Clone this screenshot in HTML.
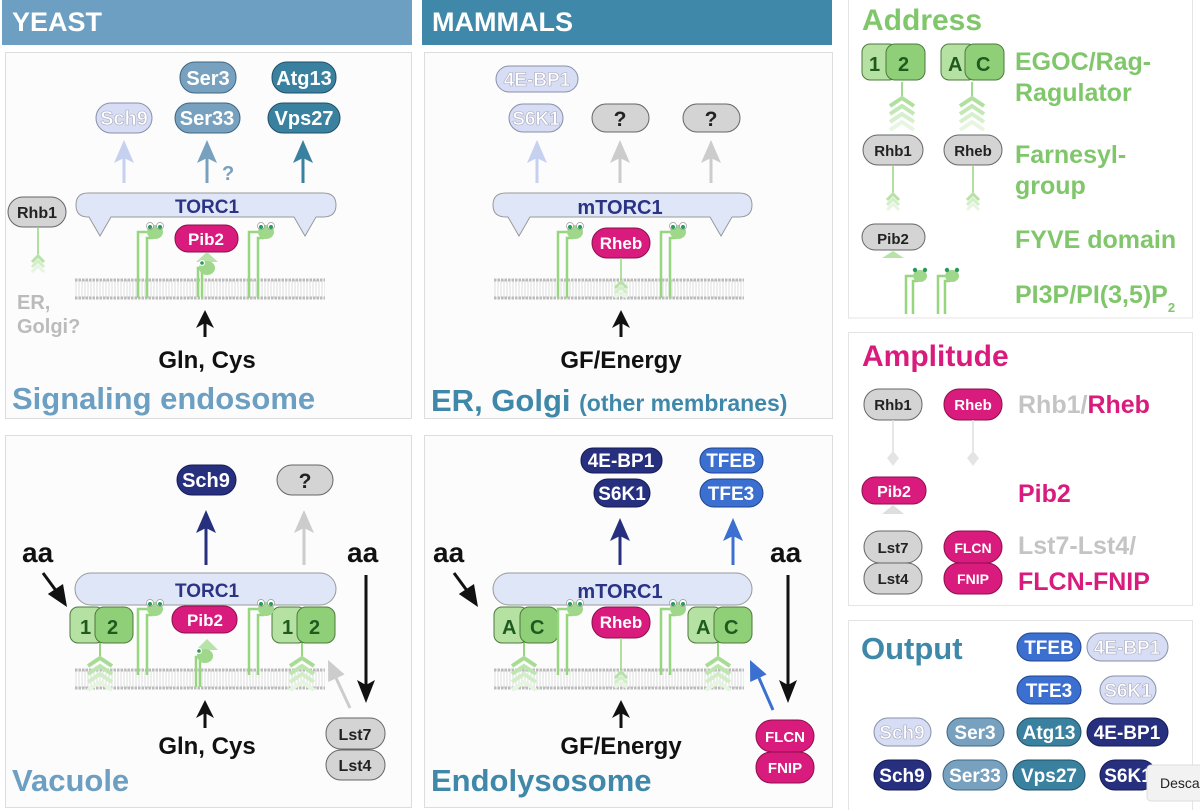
<!DOCTYPE html>
<html><head><meta charset="utf-8"><style>
html,body{margin:0;padding:0;background:#fff;}
svg{display:block;}
text{font-family:"Liberation Sans",Arial,sans-serif;font-weight:bold;}
</style></head><body>
<svg width="1200" height="810" viewBox="0 0 1200 810" xmlns="http://www.w3.org/2000/svg">
<defs>
 <pattern id="hatch" width="3" height="10" patternUnits="userSpaceOnUse"><rect width="3" height="10" fill="#fff"/><line x1="1" y1="0" x2="1" y2="10" stroke="#ddd" stroke-width="1"/></pattern>
 <g id="lip">
  <path d="M-15,70 V4 H-6 M-6,70 V10 H0" fill="none" stroke="#96d67f" stroke-width="2.5"/>
  <ellipse cx="2" cy="4" rx="8" ry="7" fill="#9fd88a"/>
  <circle cx="-3" cy="-2" r="3.5" fill="#fff" stroke="#999" stroke-width="0.7"/>
  <circle cx="7" cy="-2" r="3.5" fill="#fff" stroke="#999" stroke-width="0.7"/>
  <circle cx="-3" cy="-1" r="2" fill="#2a9a5a"/>
  <circle cx="7" cy="-1" r="2" fill="#2a9a5a"/>
 </g>
 <g id="lips">
  <path d="M-12,42 V4 H-5 M-5,42 V9 H0" fill="none" stroke="#96d67f" stroke-width="2.5"/>
  <ellipse cx="2" cy="4" rx="7" ry="6" fill="#9fd88a"/>
  <circle cx="-3" cy="-2" r="2.2" fill="#2a9a5a"/>
  <circle cx="7" cy="-2" r="2.2" fill="#2a9a5a"/>
 </g>
 <g id="chev">
  <line x1="0" y1="-14" x2="0" y2="0" stroke="#96d67f" stroke-width="2"/>
  <polyline points="-12,10 0,2 12,10" fill="none" stroke="#a8dc95" stroke-width="4"/>
  <polyline points="-12,18 0,10 12,18" fill="none" stroke="#bde6ae" stroke-width="4"/>
  <polyline points="-12,26 0,18 12,26" fill="none" stroke="#d2eec8" stroke-width="4"/>
  <polyline points="-12,34 0,26 12,34" fill="none" stroke="#e6f5e0" stroke-width="4"/>
 </g>
 <g id="chevs">
  <polyline points="-6,6 0,0 6,6" fill="none" stroke="#b7e2a7" stroke-width="3"/>
  <polyline points="-6,11 0,5 6,11" fill="none" stroke="#d2eec8" stroke-width="3"/>
  <polyline points="-6,16 0,10 6,16" fill="none" stroke="#e6f5e0" stroke-width="3"/>
 </g>
 <g id="mem">
  <rect x="0" y="0" width="250" height="18" fill="url(#hatch)"/>
  <line x1="0" y1="0" x2="250" y2="0" stroke="#bbb" stroke-width="3" stroke-dasharray="2.5,1"/>
  <line x1="0" y1="18" x2="250" y2="18" stroke="#bbb" stroke-width="3" stroke-dasharray="2.5,1"/>
 </g>
</defs>

<!-- headers -->
<rect x="2" y="0" width="410" height="45" fill="#6c9fc1"/>
<text x="12" y="31" font-size="27" fill="#fff">YEAST</text>
<rect x="422" y="0" width="410" height="45" fill="#3f88aa"/>
<text x="432" y="31" font-size="27" fill="#fff">MAMMALS</text>

<!-- panels -->
<rect x="5.5" y="52.5" width="406" height="366" fill="#fcfcfc" stroke="#ddd"/>
<rect x="5.5" y="435.5" width="406" height="372" fill="#fcfcfc" stroke="#ddd"/>
<rect x="424.5" y="52.5" width="408" height="366" fill="#fcfcfc" stroke="#ddd"/>
<rect x="424.5" y="435.5" width="408" height="372" fill="#fcfcfc" stroke="#ddd"/>
<rect x="848.5" y="-2" width="344" height="320" fill="#fff" stroke="#e4e4e4"/>
<rect x="848.5" y="332.5" width="344" height="273" fill="#fff" stroke="#e4e4e4"/>
<rect x="848.5" y="620.5" width="344" height="195" fill="#fff" stroke="#e4e4e4"/>

<!-- ===== TOP LEFT: Signaling endosome ===== -->
<rect x="180" y="62" width="56" height="31" rx="15" fill="#77a1bf" stroke="#3e6680"/>
<text x="208" y="85" font-size="20" fill="#fff" text-anchor="middle">Ser3</text>
<rect x="272" y="62" width="64" height="31" rx="15" fill="#3a81a0" stroke="#1f5069"/>
<text x="304" y="85" font-size="20" fill="#fff" text-anchor="middle">Atg13</text>
<rect x="96" y="103" width="56" height="30" rx="15" fill="#d7ddf5" stroke="#8a90a8"/>
<text x="124" y="125" font-size="20" fill="#fff" stroke="#aab" stroke-width="0.6" text-anchor="middle">Sch9</text>
<rect x="175" y="103" width="65" height="30" rx="15" fill="#77a1bf" stroke="#3e6680"/>
<text x="207" y="125" font-size="20" fill="#fff" text-anchor="middle">Ser33</text>
<rect x="268" y="103" width="72" height="30" rx="15" fill="#3a81a0" stroke="#1f5069"/>
<text x="304" y="125" font-size="20" fill="#fff" text-anchor="middle">Vps27</text>
<line x1="124" y1="183" x2="124" y2="150" stroke="#c6d1f0" stroke-width="3"/><polygon points="114,163 124,140 134,163 124,158" fill="#c6d1f0"/>
<line x1="207" y1="183" x2="207" y2="150" stroke="#77a1bf" stroke-width="3"/><polygon points="197,163 207,140 217,163 207,158" fill="#77a1bf"/>
<text x="222" y="180" font-size="20" fill="#77a1bf">?</text>
<line x1="303" y1="183" x2="303" y2="150" stroke="#3a81a0" stroke-width="3"/><polygon points="293,163 303,140 313,163 303,158" fill="#3a81a0"/>
<path d="M88,193 H323 Q336,193 336,205 Q336,217 323,217 H316 L305,236 L294,217 H111 L100,236 L89,217 H88 Q76,217 76,205 Q76,193 88,193 Z" fill="#dfe6f8" stroke="#999"/>
<text x="207" y="213" font-size="19" fill="#2b3384" text-anchor="middle">TORC1</text>
<rect x="8" y="197" width="58" height="30" rx="15" fill="#d4d4d4" stroke="#666"/>
<text x="37" y="218" font-size="16" fill="#222" text-anchor="middle">Rhb1</text>
<line x1="38" y1="227" x2="38" y2="256" stroke="#96d67f" stroke-width="1.5"/>
<use href="#chevs" x="38" y="256"/>
<use href="#mem" x="75" y="280"/>
<use href="#lip" x="153" y="228"/>
<use href="#lip" x="264" y="228"/>
<rect x="175" y="225" width="63" height="27" rx="13" fill="#d81b7c" stroke="#8a0f4c"/>
<text x="206" y="245" font-size="17" fill="#fff" text-anchor="middle">Pib2</text>
<polygon points="196,262 207,252 218,262" fill="#b8e3a8"/>
<path d="M198,297 V268 H205 M202,297 V272" fill="none" stroke="#96d67f" stroke-width="2.5"/>
<ellipse cx="207" cy="268" rx="8" ry="7" fill="#9fd88a"/>
<circle cx="202" cy="263" r="3" fill="#fff"/><circle cx="202" cy="263" r="1.8" fill="#2a9a5a"/>
<line x1="205" y1="337" x2="205" y2="322" stroke="#111" stroke-width="3"/><polygon points="196,328 205,310 214,328 205,323" fill="#111"/>
<text x="207" y="368" font-size="24" fill="#111" text-anchor="middle">Gln, Cys</text>
<text x="17" y="309" font-size="20" fill="#bbb">ER,</text>
<text x="17" y="333" font-size="20" fill="#bbb">Golgi?</text>
<text x="12" y="409" font-size="31" fill="#6c9fc1">Signaling endosome</text>

<!-- ===== TOP MIDDLE ===== -->
<rect x="496" y="66" width="82" height="26" rx="13" fill="#d7ddf5" stroke="#8a90a8"/>
<text x="537" y="86" font-size="19" fill="#fff" stroke="#aab" stroke-width="0.6" text-anchor="middle">4E-BP1</text>
<rect x="509" y="104" width="54" height="28" rx="14" fill="#d7ddf5" stroke="#8a90a8"/>
<text x="536" y="125" font-size="19" fill="#fff" stroke="#aab" stroke-width="0.6" text-anchor="middle">S6K1</text>
<rect x="592" y="104" width="57" height="28" rx="14" fill="#d4d4d4" stroke="#666"/>
<text x="620" y="126" font-size="21" fill="#222" text-anchor="middle">?</text>
<rect x="683" y="104" width="57" height="28" rx="14" fill="#d4d4d4" stroke="#666"/>
<text x="711" y="126" font-size="21" fill="#222" text-anchor="middle">?</text>
<line x1="537" y1="183" x2="537" y2="150" stroke="#c6d1f0" stroke-width="3"/><polygon points="527,163 537,140 547,163 537,158" fill="#c6d1f0"/>
<line x1="620" y1="183" x2="620" y2="150" stroke="#ccc" stroke-width="3"/><polygon points="610,163 620,140 630,163 620,158" fill="#ccc"/>
<line x1="711" y1="183" x2="711" y2="150" stroke="#ccc" stroke-width="3"/><polygon points="701,163 711,140 721,163 711,158" fill="#ccc"/>
<path d="M506,193 H739 Q752,193 752,205 Q752,217 739,217 H732 L721,236 L710,217 H530 L519,236 L508,217 H506 Q493,217 493,205 Q493,193 506,193 Z" fill="#dfe6f8" stroke="#999"/>
<text x="620" y="214" font-size="20" fill="#2b3384" text-anchor="middle">mTORC1</text>
<use href="#mem" x="494" y="280"/>
<use href="#lip" x="573" y="228"/>
<use href="#lip" x="676" y="228"/>
<rect x="592" y="228" width="58" height="30" rx="15" fill="#d81b7c" stroke="#8a0f4c"/>
<text x="621" y="249" font-size="17" fill="#fff" text-anchor="middle">Rheb</text>
<line x1="621" y1="258" x2="621" y2="283" stroke="#96d67f" stroke-width="1.5"/>
<use href="#chevs" x="621" y="282"/>
<line x1="621" y1="337" x2="621" y2="322" stroke="#111" stroke-width="3"/><polygon points="612,328 621,310 630,328 621,323" fill="#111"/>
<text x="621" y="368" font-size="24" fill="#111" text-anchor="middle">GF/Energy</text>
<text x="431" y="411" font-size="31" fill="#3f88aa">ER, Golgi <tspan font-size="23">(other membranes)</tspan></text>

<!-- ===== BOTTOM LEFT: Vacuole ===== -->
<rect x="177" y="465" width="59" height="30" rx="15" fill="#27307f" stroke="#141a55"/>
<text x="206" y="487" font-size="20" fill="#fff" text-anchor="middle">Sch9</text>
<rect x="277" y="465" width="56" height="30" rx="15" fill="#d4d4d4" stroke="#666"/>
<text x="305" y="488" font-size="21" fill="#222" text-anchor="middle">?</text>
<line x1="206" y1="565" x2="206" y2="520" stroke="#27307f" stroke-width="3"/><polygon points="196,533 206,510 216,533 206,528" fill="#27307f"/>
<line x1="304" y1="565" x2="304" y2="520" stroke="#ccc" stroke-width="3"/><polygon points="294,533 304,510 314,533 304,528" fill="#ccc"/>
<text x="22" y="562" font-size="28" fill="#111">aa</text>
<text x="347" y="562" font-size="28" fill="#111">aa</text>
<line x1="43" y1="573" x2="57" y2="592" stroke="#111" stroke-width="3"/><polygon points="67,607 47.8,594 55.4,589 63,584" fill="#111"/>
<line x1="366" y1="575" x2="366" y2="685" stroke="#111" stroke-width="3"/><polygon points="357,680 366,703 375,680 366,685" fill="#111"/>
<line x1="350" y1="708" x2="336" y2="678" stroke="#ccc" stroke-width="3"/><polygon points="328,660 344.6,674.4 336.4,678.2 328.2,682" fill="#ccc"/>
<rect x="75" y="573" width="261" height="32" rx="16" fill="#dfe6f8" stroke="#999"/>
<text x="207" y="597" font-size="19" fill="#2b3384" text-anchor="middle">TORC1</text>
<use href="#mem" x="75" y="670"/>
<use href="#chev" x="100" y="656"/>
<use href="#chev" x="302" y="656"/>
<rect x="70" y="607" width="34" height="36" rx="8" fill="#b5e1a3" stroke="#4d7a3c"/>
<rect x="95" y="607" width="38" height="36" rx="9" fill="#8fcf78" stroke="#4d7a3c"/>
<text x="80" y="634" font-size="20" fill="#1f5a1f">1</text><text x="107" y="634" font-size="20" fill="#1f5a1f">2</text>
<rect x="272" y="607" width="34" height="36" rx="8" fill="#b5e1a3" stroke="#4d7a3c"/>
<rect x="297" y="607" width="38" height="36" rx="9" fill="#8fcf78" stroke="#4d7a3c"/>
<text x="282" y="634" font-size="20" fill="#1f5a1f">1</text><text x="309" y="634" font-size="20" fill="#1f5a1f">2</text>
<use href="#lip" x="153" y="605"/>
<use href="#lip" x="264" y="605"/>
<rect x="172" y="606" width="65" height="27" rx="13" fill="#d81b7c" stroke="#8a0f4c"/>
<text x="205" y="626" font-size="17" fill="#fff" text-anchor="middle">Pib2</text>
<polygon points="196,650 207,639 218,650" fill="#b8e3a8"/>
<path d="M196,687 V657 H203 M200,687 V661" fill="none" stroke="#96d67f" stroke-width="2.5"/>
<ellipse cx="205" cy="656" rx="8" ry="7" fill="#9fd88a"/>
<circle cx="199" cy="651" r="3" fill="#fff"/><circle cx="199" cy="651" r="1.8" fill="#2a9a5a"/>
<line x1="205" y1="728" x2="205" y2="712" stroke="#111" stroke-width="3"/><polygon points="196,718 205,700 214,718 205,713" fill="#111"/>
<text x="207" y="754" font-size="24" fill="#111" text-anchor="middle">Gln, Cys</text>
<rect x="326" y="718" width="59" height="31" rx="15" fill="#d4d4d4" stroke="#666"/>
<text x="355" y="740" font-size="16" fill="#222" text-anchor="middle">Lst7</text>
<rect x="326" y="750" width="59" height="30" rx="15" fill="#d4d4d4" stroke="#666"/>
<text x="355" y="771" font-size="16" fill="#222" text-anchor="middle">Lst4</text>
<text x="12" y="791" font-size="31" fill="#6c9fc1">Vacuole</text>

<!-- ===== BOTTOM MIDDLE: Endolysosome ===== -->
<rect x="581" y="448" width="81" height="25" rx="12" fill="#27307f" stroke="#141a55"/>
<text x="621" y="467" font-size="19" fill="#fff" text-anchor="middle">4E-BP1</text>
<rect x="594" y="479" width="56" height="28" rx="14" fill="#27307f" stroke="#141a55"/>
<text x="622" y="500" font-size="19" fill="#fff" text-anchor="middle">S6K1</text>
<rect x="700" y="448" width="63" height="25" rx="12" fill="#3b6fd0" stroke="#1f4590"/>
<text x="731" y="467" font-size="19" fill="#fff" text-anchor="middle">TFEB</text>
<rect x="700" y="479" width="63" height="28" rx="14" fill="#3b6fd0" stroke="#1f4590"/>
<text x="731" y="500" font-size="19" fill="#fff" text-anchor="middle">TFE3</text>
<line x1="620" y1="565" x2="620" y2="530" stroke="#27307f" stroke-width="3"/><polygon points="610,541 620,518 630,541 620,536" fill="#27307f"/>
<line x1="733" y1="565" x2="733" y2="530" stroke="#3b6fd0" stroke-width="3"/><polygon points="723,541 733,518 743,541 733,536" fill="#3b6fd0"/>
<text x="433" y="562" font-size="28" fill="#111">aa</text>
<text x="770" y="562" font-size="28" fill="#111">aa</text>
<line x1="454" y1="573" x2="468" y2="592" stroke="#111" stroke-width="3"/><polygon points="478,607 458.8,594 466.4,589 474,584" fill="#111"/>
<line x1="788" y1="575" x2="788" y2="685" stroke="#111" stroke-width="3"/><polygon points="779,680 788,703 797,680 788,685" fill="#111"/>
<line x1="773" y1="710" x2="759" y2="678" stroke="#3b6fd0" stroke-width="3"/><polygon points="750,660 766.6,674.4 758.4,678.2 750.2,682" fill="#3b6fd0"/>
<rect x="493" y="573" width="259" height="32" rx="16" fill="#dfe6f8" stroke="#999"/>
<text x="620" y="598" font-size="20" fill="#2b3384" text-anchor="middle">mTORC1</text>
<use href="#mem" x="494" y="670"/>
<use href="#chev" x="524" y="656"/>
<use href="#chev" x="718" y="656"/>
<rect x="494" y="607" width="34" height="36" rx="8" fill="#b5e1a3" stroke="#4d7a3c"/>
<rect x="520" y="607" width="38" height="36" rx="9" fill="#8fcf78" stroke="#4d7a3c"/>
<text x="502" y="634" font-size="20" fill="#1f5a1f">A</text><text x="530" y="634" font-size="20" fill="#1f5a1f">C</text>
<rect x="688" y="607" width="34" height="36" rx="8" fill="#b5e1a3" stroke="#4d7a3c"/>
<rect x="714" y="607" width="38" height="36" rx="9" fill="#8fcf78" stroke="#4d7a3c"/>
<text x="696" y="634" font-size="20" fill="#1f5a1f">A</text><text x="724" y="634" font-size="20" fill="#1f5a1f">C</text>
<use href="#lip" x="573" y="605"/>
<use href="#lip" x="676" y="605"/>
<rect x="592" y="607" width="58" height="31" rx="15" fill="#d81b7c" stroke="#8a0f4c"/>
<text x="621" y="628" font-size="17" fill="#fff" text-anchor="middle">Rheb</text>
<line x1="621" y1="638" x2="621" y2="674" stroke="#96d67f" stroke-width="1.5"/>
<use href="#chevs" x="621" y="672"/>
<line x1="621" y1="728" x2="621" y2="712" stroke="#111" stroke-width="3"/><polygon points="612,718 621,700 630,718 621,713" fill="#111"/>
<text x="621" y="754" font-size="24" fill="#111" text-anchor="middle">GF/Energy</text>
<rect x="756" y="720" width="58" height="32" rx="16" fill="#d81b7c" stroke="#8a0f4c"/>
<text x="785" y="742" font-size="15" fill="#fff" text-anchor="middle">FLCN</text>
<rect x="756" y="752" width="58" height="31" rx="15" fill="#d81b7c" stroke="#8a0f4c"/>
<text x="785" y="773" font-size="15" fill="#fff" text-anchor="middle">FNIP</text>
<text x="431" y="791" font-size="31" fill="#3f88aa">Endolysosome</text>

<!-- ===== ADDRESS ===== -->
<text x="862" y="30" font-size="30" fill="#80c66a">Address</text>
<use href="#chev" x="902" y="96" opacity="0.9"/>
<use href="#chev" x="972" y="96" opacity="0.9"/>
<rect x="862" y="44" width="35" height="36" rx="8" fill="#b5e1a3" stroke="#4d7a3c"/>
<rect x="886" y="44" width="39" height="36" rx="9" fill="#8fcf78" stroke="#4d7a3c"/>
<text x="869" y="71" font-size="20" fill="#1f5a1f">1</text><text x="898" y="71" font-size="20" fill="#1f5a1f">2</text>
<rect x="941" y="44" width="35" height="36" rx="8" fill="#b5e1a3" stroke="#4d7a3c"/>
<rect x="965" y="44" width="39" height="36" rx="9" fill="#8fcf78" stroke="#4d7a3c"/>
<text x="948" y="71" font-size="20" fill="#1f5a1f">A</text><text x="976" y="71" font-size="20" fill="#1f5a1f">C</text>
<text x="1015" y="70" font-size="25" fill="#80c66a">EGOC/Rag-</text>
<text x="1015" y="101" font-size="25" fill="#80c66a">Ragulator</text>
<rect x="863" y="135" width="60" height="30" rx="15" fill="#d4d4d4" stroke="#666"/>
<text x="893" y="156" font-size="15" fill="#222" text-anchor="middle">Rhb1</text>
<rect x="944" y="135" width="58" height="30" rx="15" fill="#d4d4d4" stroke="#666"/>
<text x="973" y="156" font-size="15" fill="#222" text-anchor="middle">Rheb</text>
<line x1="893" y1="165" x2="893" y2="195" stroke="#96d67f" stroke-width="1.5"/><use href="#chevs" x="893" y="194"/>
<line x1="973" y1="165" x2="973" y2="195" stroke="#96d67f" stroke-width="1.5"/><use href="#chevs" x="973" y="194"/>
<text x="1015" y="163" font-size="25" fill="#80c66a">Farnesyl-</text>
<text x="1015" y="194" font-size="25" fill="#80c66a">group</text>
<rect x="862" y="224" width="63" height="26" rx="13" fill="#d4d4d4" stroke="#666"/>
<text x="893" y="244" font-size="15" fill="#222" text-anchor="middle">Pib2</text>
<path d="M882,258 L893,251 L904,258 Z" fill="#b8e3a8"/>
<text x="1015" y="248" font-size="25" fill="#80c66a">FYVE domain</text>
<use href="#lips" x="918" y="272"/>
<use href="#lips" x="950" y="272"/>
<text x="1015" y="303" font-size="25" fill="#80c66a">PI3P/PI(3,5)P<tspan font-size="13" dy="9">2</tspan></text>

<!-- ===== AMPLITUDE ===== -->
<text x="862" y="366" font-size="30" fill="#d81b7c">Amplitude</text>
<rect x="864" y="389" width="58" height="31" rx="15" fill="#d4d4d4" stroke="#666"/>
<text x="893" y="410" font-size="15" fill="#222" text-anchor="middle">Rhb1</text>
<rect x="944" y="389" width="58" height="31" rx="15" fill="#d81b7c" stroke="#8a0f4c"/>
<text x="973" y="410" font-size="15" fill="#fff" text-anchor="middle">Rheb</text>
<line x1="893" y1="420" x2="893" y2="452" stroke="#ddd" stroke-width="1.5"/><polygon points="887,458 893,451 899,458 893,466" fill="#e4e4e4"/>
<line x1="973" y1="420" x2="973" y2="452" stroke="#ddd" stroke-width="1.5"/><polygon points="967,458 973,451 979,458 973,466" fill="#e4e4e4"/>
<text x="1018" y="413" font-size="25" fill="#c4c4c4">Rhb1/<tspan fill="#d81b7c">Rheb</tspan></text>
<rect x="862" y="477" width="64" height="27" rx="13" fill="#d81b7c" stroke="#8a0f4c"/>
<text x="894" y="497" font-size="16" fill="#fff" text-anchor="middle">Pib2</text>
<polygon points="882,514 893,505 904,514" fill="#dedede"/>
<text x="1018" y="502" font-size="25" fill="#d81b7c">Pib2</text>
<rect x="864" y="531" width="58" height="32" rx="16" fill="#d4d4d4" stroke="#666"/>
<text x="893" y="553" font-size="15" fill="#222" text-anchor="middle">Lst7</text>
<rect x="864" y="563" width="58" height="31" rx="15" fill="#d4d4d4" stroke="#666"/>
<text x="893" y="584" font-size="15" fill="#222" text-anchor="middle">Lst4</text>
<rect x="944" y="531" width="58" height="32" rx="16" fill="#d81b7c" stroke="#8a0f4c"/>
<text x="973" y="553" font-size="14" fill="#fff" text-anchor="middle">FLCN</text>
<rect x="944" y="563" width="58" height="31" rx="15" fill="#d81b7c" stroke="#8a0f4c"/>
<text x="973" y="584" font-size="14" fill="#fff" text-anchor="middle">FNIP</text>
<text x="1018" y="554" font-size="25" fill="#c4c4c4">Lst7-Lst4/</text>
<text x="1018" y="590" font-size="25" fill="#d81b7c">FLCN-FNIP</text>

<!-- ===== OUTPUT ===== -->
<text x="861" y="659" font-size="31" fill="#3f88aa">Output</text>
<rect x="1017" y="633" width="64" height="28" rx="14" fill="#3b6fd0" stroke="#1f4590"/>
<text x="1049" y="654" font-size="19" fill="#fff" text-anchor="middle">TFEB</text>
<rect x="1087" y="633" width="81" height="28" rx="14" fill="#d7ddf5" stroke="#8a90a8"/>
<text x="1127" y="654" font-size="19" fill="#fff" stroke="#aab" stroke-width="0.6" text-anchor="middle">4E-BP1</text>
<rect x="1017" y="676" width="64" height="28" rx="14" fill="#3b6fd0" stroke="#1f4590"/>
<text x="1049" y="697" font-size="19" fill="#fff" text-anchor="middle">TFE3</text>
<rect x="1100" y="676" width="56" height="28" rx="14" fill="#d7ddf5" stroke="#8a90a8"/>
<text x="1128" y="697" font-size="19" fill="#fff" stroke="#aab" stroke-width="0.6" text-anchor="middle">S6K1</text>
<rect x="874" y="718" width="57" height="28" rx="14" fill="#d7ddf5" stroke="#8a90a8"/>
<text x="902" y="739" font-size="19" fill="#fff" stroke="#aab" stroke-width="0.6" text-anchor="middle">Sch9</text>
<rect x="947" y="718" width="57" height="28" rx="14" fill="#77a1bf" stroke="#3e6680"/>
<text x="975" y="739" font-size="19" fill="#fff" text-anchor="middle">Ser3</text>
<rect x="1017" y="718" width="64" height="28" rx="14" fill="#3a81a0" stroke="#1f5069"/>
<text x="1049" y="739" font-size="19" fill="#fff" text-anchor="middle">Atg13</text>
<rect x="1087" y="718" width="81" height="28" rx="14" fill="#27307f" stroke="#141a55"/>
<text x="1127" y="739" font-size="19" fill="#fff" text-anchor="middle">4E-BP1</text>
<rect x="874" y="760" width="57" height="30" rx="15" fill="#27307f" stroke="#141a55"/>
<text x="902" y="782" font-size="19" fill="#fff" text-anchor="middle">Sch9</text>
<rect x="943" y="760" width="64" height="30" rx="15" fill="#77a1bf" stroke="#3e6680"/>
<text x="975" y="782" font-size="19" fill="#fff" text-anchor="middle">Ser33</text>
<rect x="1013" y="760" width="72" height="30" rx="15" fill="#3a81a0" stroke="#1f5069"/>
<text x="1049" y="782" font-size="19" fill="#fff" text-anchor="middle">Vps27</text>
<rect x="1100" y="760" width="56" height="30" rx="15" fill="#27307f" stroke="#141a55"/>
<text x="1128" y="782" font-size="19" fill="#fff" text-anchor="middle">S6K1</text>
<rect x="1147" y="765" width="60" height="36" rx="4" fill="#f2f2f2" stroke="#ddd"/>
<text x="1160" y="788" font-size="14" fill="#222" style="font-weight:normal">Desca</text>
</svg>
</body></html>
